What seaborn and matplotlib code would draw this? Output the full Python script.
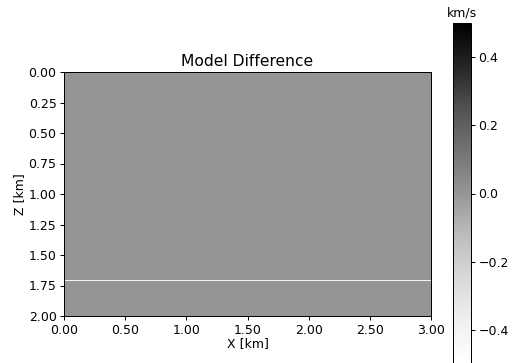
import numpy as np
import matplotlib
matplotlib.use("Agg")
import matplotlib.pyplot as plt
import seaborn as sns

# model grid (km)
x_len = 3.0
z_len = 2.0
dx = 0.008
# difference model: zero everywhere except one thin reflector row
background_diff = 0.0
layer_depth = 1.704
layer_diff = -0.4
vlim = 0.5

x_ticks = [0.0, 0.5, 1.0, 1.5, 2.0, 2.5, 3.0]
z_ticks = [0.0, 0.25, 0.5, 0.75, 1.0, 1.25, 1.5, 1.75, 2.0]
cbar_ticks = [-0.4, -0.2, 0.0, 0.2, 0.4]

nx = int(round(x_len / dx))
nz = int(round(z_len / dx))
diff = np.full((nz, nx), background_diff)
diff[int(round(layer_depth / dx)), :] = layer_diff

sns.set_style("ticks")
plt.rcParams.update({"text.color": "black", "axes.labelcolor": "black",
                     "xtick.color": "black", "ytick.color": "black"})
fs = 12.5
fig = plt.figure(figsize=(513 / 72, 363 / 72), dpi=72)
ax = fig.add_axes([64 / 513, 47 / 363, 367 / 513, 244 / 363])
cax = fig.add_axes([453 / 513, -1 / 363, 18 / 513, 341 / 363])

sns.heatmap(diff, cmap="Greys", vmin=-vlim, vmax=vlim, ax=ax, cbar_ax=cax,
            xticklabels=False, yticklabels=False, rasterized=True)

ax.set_xticks([t / dx for t in x_ticks])
ax.set_xticklabels([f"{t:.2f}" for t in x_ticks], rotation=0)
ax.set_yticks([t / dx for t in z_ticks])
ax.set_yticklabels([f"{t:.2f}" for t in z_ticks], rotation=0)
ax.tick_params(length=4, width=1, labelsize=fs, colors="black")
for s in ax.spines.values():
    s.set_visible(True)
    s.set_linewidth(1)
    s.set_color("black")
ax.set_xlabel("X [km]", fontsize=fs, labelpad=1)
ax.set_ylabel("Z [km]", fontsize=fs, labelpad=2)
ax.set_title("Model Difference", fontsize=15.5, pad=6)

cb = ax.collections[0].colorbar
cb.set_ticks(cbar_ticks)
cb.outline.set_visible(True)
cb.outline.set_linewidth(1)
cb.outline.set_edgecolor("black")
cax.tick_params(length=4, width=1, labelsize=fs, colors="black")
cax.set_title("km/s", fontsize=fs, pad=7)

fig.savefig("out.png", dpi=72)
